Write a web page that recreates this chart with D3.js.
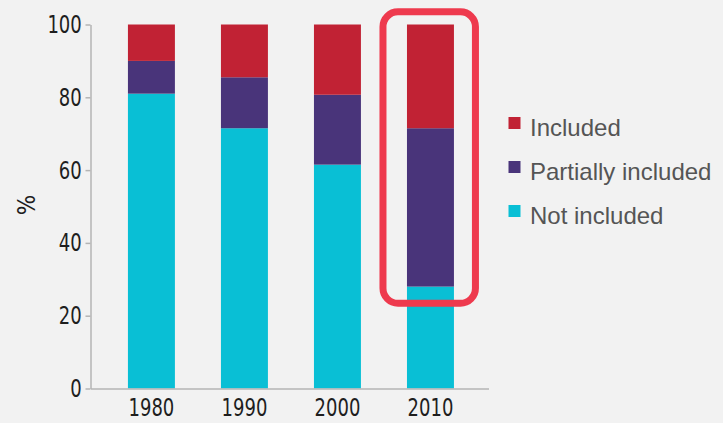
<!DOCTYPE html>
<html>
<head>
<meta charset="utf-8">
<script src="https://cdn.jsdelivr.net/npm/d3@7"></script>
<style>
    body { margin: 0; background: #f2f2f2; }
    .axis path, .axis line { stroke: #b4b4b4; stroke-width: 1.5; }
    .axis text { font-family: "DejaVu Sans Condensed", "DejaVu Sans", sans-serif; fill: #1e1e1e; }
</style>
</head>
<body>
<script>
//chart data
var years = ["1980", "1990", "2000", "2010"];
var notIncluded = [81, 71.5, 61.5, 28];
var partiallyIncluded = [9, 14, 19.2, 43.5];
var included = [10, 14.5, 19.3, 28.5];
var seriesNames = ["Not included", "Partially included", "Included"];
var seriesColors = ["#09bfd5", "#49347a", "#c12234"];
var yTicks = [0, 20, 40, 60, 80, 100];
var highlightYear = "2010";

//chart frame
var width = 723,
    height = 423;

var svg = d3.select("body")
    .append("svg")
    .attr("width", width)
    .attr("height", height);

//scales
var x = d3.scaleBand()
    .domain(years)
    .range([90.5, 488.5])
    .paddingInner(0.495)
    .paddingOuter(0.387)
    .align(0.52);

var y = d3.scaleLinear()
    .domain([0, 100])
    .range([388.5, 24.5]);

//build rows for the stack
var rows = years.map(function(yr, i){
    return {year: yr, "Not included": notIncluded[i], "Partially included": partiallyIncluded[i], "Included": included[i]};
});

var stacked = d3.stack().keys(seriesNames)(rows);

//bars
svg.selectAll(".layer")
    .data(stacked)
    .enter()
    .append("g")
    .attr("class", "layer")
    .attr("fill", function(d, i){ return seriesColors[i]; })
    .selectAll("rect")
    .data(function(d){ return d; })
    .enter()
    .append("rect")
    .attr("x", function(d){ return x(d.data.year); })
    .attr("width", x.bandwidth())
    .attr("y", function(d){ return y(d[1]); })
    .attr("height", function(d){ return y(d[0]) - y(d[1]); });

//y axis
var yAxis = svg.append("g")
    .attr("class", "axis")
    .attr("transform", "translate(90.5,0)")
    .call(d3.axisLeft(y).tickValues(yTicks).tickSize(5).tickSizeOuter(0).tickPadding(6));
//squeeze the digits to look like the condensed face of the original
yAxis.selectAll("text")
    .style("font-size", "25px")
    .attr("transform", "scale(0.8,1)");

//x axis
var xAxis = svg.append("g")
    .attr("class", "axis")
    .attr("transform", "translate(0,388.5)")
    .call(d3.axisBottom(x).tickSize(0).tickSizeOuter(0).tickPadding(10));
xAxis.selectAll("text")
    .style("font-size", "25px")
    .attr("transform", "scale(0.8,1)");

//y axis title
svg.append("text")
    .attr("transform", "translate(35,205) rotate(-90)")
    .attr("text-anchor", "middle")
    .style("font-family", "\"DejaVu Sans Condensed\", sans-serif")
    .style("font-size", "24px")
    .style("fill", "#1e1e1e")
    .text("%");

//highlight box round the last bar
var hi = stacked[0][years.indexOf(highlightYear)];
svg.append("rect")
    .attr("x", x(highlightYear) - 24)
    .attr("y", y(100) - 12.7)
    .attr("width", x.bandwidth() + 45.5)
    .attr("height", y(hi[1]) + 16.7 - (y(100) - 12.7))
    .attr("rx", 15)
    .attr("fill", "none")
    .attr("stroke", "#ee3a4e")
    .attr("stroke-width", 7);

//legend, top entry is the top of the stack
var legendItems = seriesNames.slice().reverse();
var legend = svg.selectAll(".legend")
    .data(legendItems)
    .enter()
    .append("g")
    .attr("class", "legend")
    .attr("transform", function(d, i){ return "translate(508.5," + (117 + i * 44) + ")"; });

legend.append("rect")
    .attr("width", 12)
    .attr("height", 12)
    .attr("fill", function(d){ return seriesColors[seriesNames.indexOf(d)]; });

legend.append("text")
    .attr("x", 21.5)
    .attr("y", 19)
    .style("font-family", "\"Liberation Sans\", sans-serif")
    .style("font-size", "24px")
    .style("fill", "#555")
    .text(function(d){ return d; });
</script>
</body>
</html>
